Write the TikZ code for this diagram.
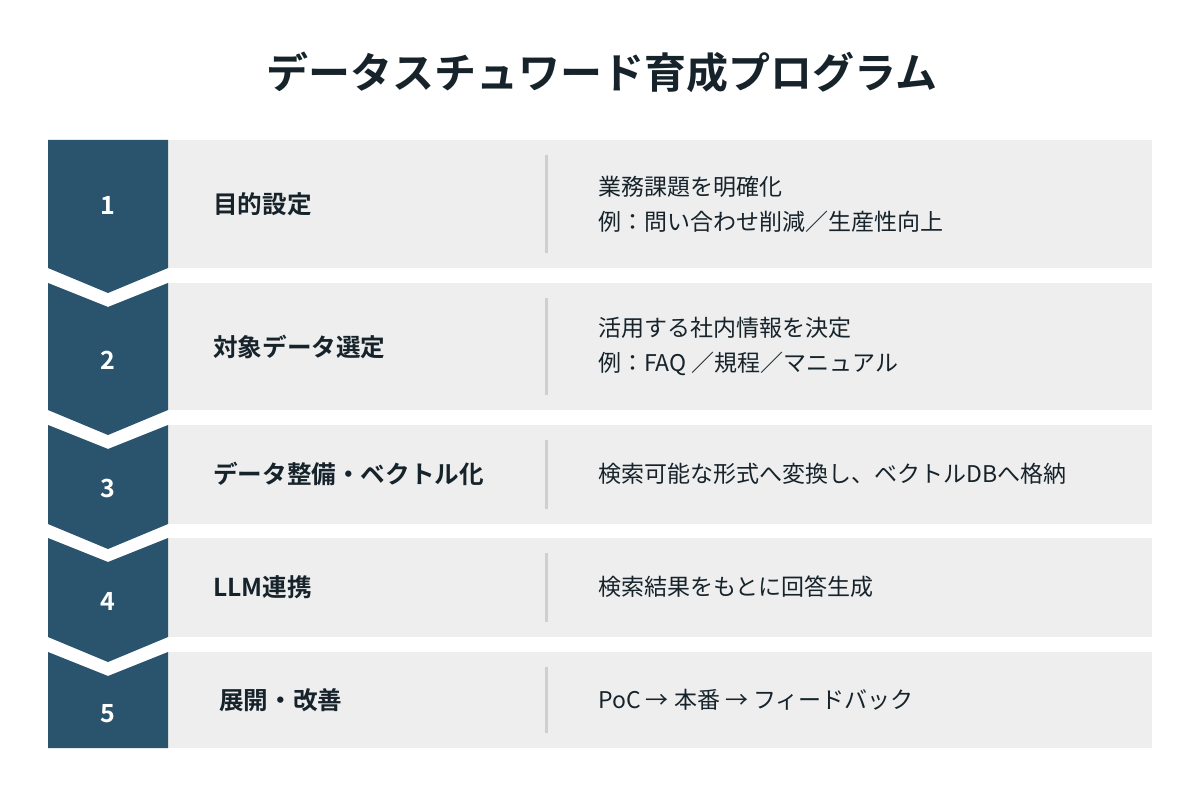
\documentclass[tikz,border=0pt]{standalone}
\usepackage{fontspec}
\setmainfont{Noto Sans CJK JP}[BoldFont={Noto Sans CJK JP Bold}]
\usetikzlibrary{calc}

\definecolor{stepblue}{HTML}{2A546E}
\definecolor{panelgray}{HTML}{EEEEEE}
\definecolor{inkdark}{HTML}{17232B}
\definecolor{rulegray}{HTML}{CFCFCF}

\tikzset{
  numtext/.style={text=white, inner sep=0pt, font=\bfseries\fontsize{25}{25}\selectfont},
  steptext/.style={anchor=west, text=inkdark, inner sep=0pt, font=\bfseries\fontsize{24.6}{25}\selectfont},
  desctext/.style={anchor=west, text=inkdark, inner sep=0pt, align=left, font=\fontsize{23}{35}\selectfont},
  seprule/.style={draw=rulegray, line width=3pt},
}

\begin{document}
\begin{tikzpicture}[x=1pt, y=-1pt]
            \useasboundingbox (0,0) rectangle (1200,799);
            \fill[white] (0,0) rectangle (1200,799);

            \node[text=inkdark, font=\bfseries\fontsize{42}{42}\selectfont] (title) at (602,72) {データスチュワード育成プログラム};

            % gray panels
            \fill[panelgray] (168,140) rectangle (1152,268);
            \fill[panelgray] (168,283) rectangle (1152,410);
            \fill[panelgray] (168,425) rectangle (1152,524);
            \fill[panelgray] (168,538) rectangle (1152,637);
            \fill[panelgray] (168,652) rectangle (1152,748);

            % chevrons
            \fill[stepblue] (48,140) -- (168,140) -- (168,268) -- (108,293) -- (48,268) -- cycle;
            \fill[stepblue] (48,283) -- (108,307) -- (168,283) -- (168,410) -- (108,435) -- (48,410) -- cycle;
            \fill[stepblue] (48,425) -- (108,449) -- (168,425) -- (168,524) -- (108,549) -- (48,524) -- cycle;
            \fill[stepblue] (48,538) -- (108,562) -- (168,538) -- (168,637) -- (108,662) -- (48,637) -- cycle;
            \fill[stepblue] (48,652) -- (108,676) -- (168,652) -- (168,748) -- (48,748) -- cycle;

            \node[numtext] (num1) at (108,205) {1};
            \node[numtext] (num2) at (108,360) {2};
            \node[numtext] (num3) at (108,488) {3};
            \node[numtext] (num4) at (108,601) {4};
            \node[numtext] (num5) at (108,714) {5};

            \node[steptext] (step1) at (213,204) {目的設定};
            \node[steptext] (step2) at (213,347) {対象データ選定};
            \node[steptext] (step3) at (213,474) {データ整備・ベクトル化};
            \node[steptext] (step4) at (213,587) {LLM連携};
            \node[steptext] (step5) at (219,700) {展開・改善};

            \draw[seprule] (546,155) -- (546,253);
            \draw[seprule] (546,298) -- (546,395);
            \draw[seprule] (546,440) -- (546,509);
            \draw[seprule] (546,553) -- (546,622);
            \draw[seprule] (546,667) -- (546,733);

            \node[desctext] (desc1) at (598,204) {業務課題を明確化\\例：問い合わせ削減／生産性向上};
            \node[desctext] (desc2) at (598,346) {活用する社内情報を決定\\例：FAQ ／規程／マニュアル};
            \node[desctext] (desc3) at (598,474) {検索可能な形式へ変換し、ベクトルDBへ格納};
            \node[desctext] (desc4) at (598,587) {検索結果をもとに回答生成};
            \node[desctext] (desc5) at (598,700) {PoC → 本番 → フィードバック};
        \end{tikzpicture}
\end{document}
